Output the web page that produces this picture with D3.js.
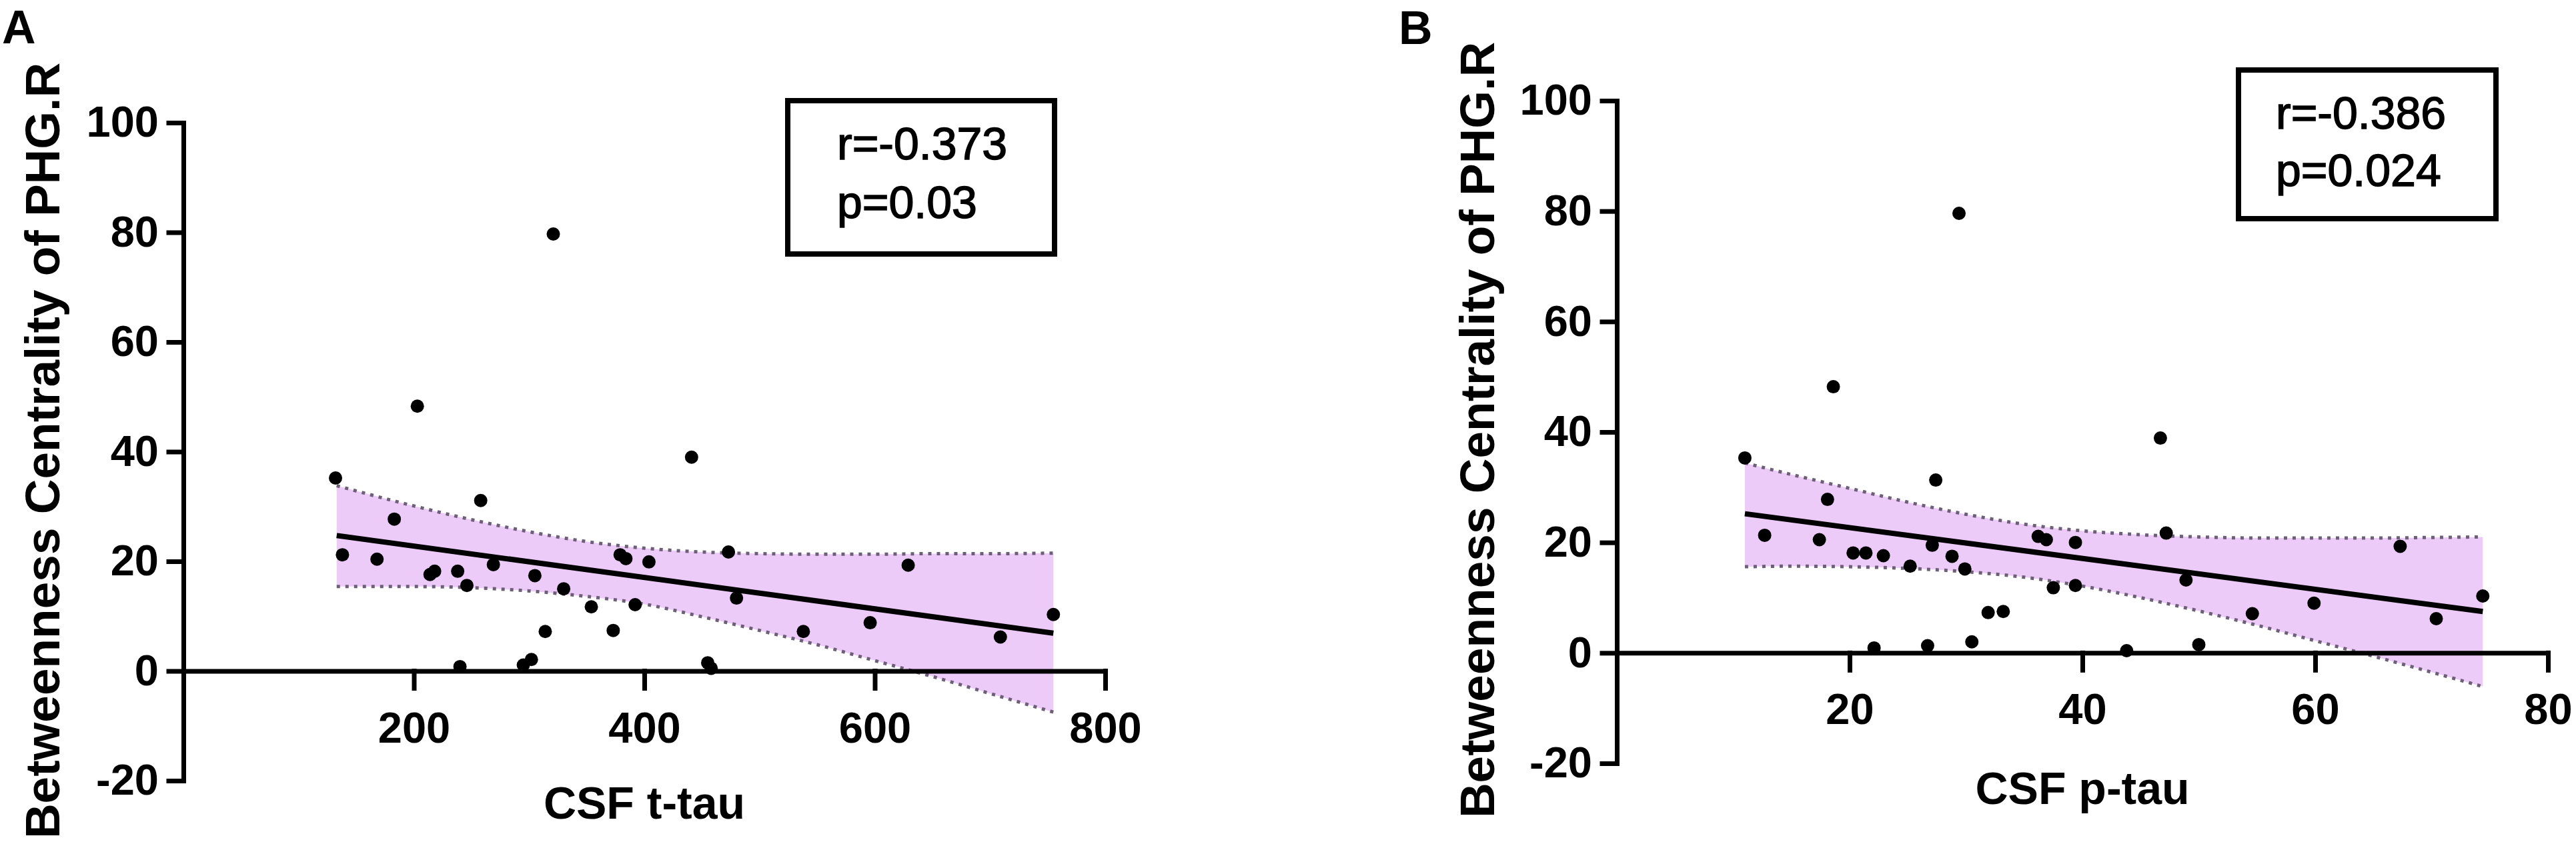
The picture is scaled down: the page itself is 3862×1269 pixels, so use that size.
<!DOCTYPE html>
<html>
<head>
<meta charset="utf-8">
<title>Betweenness centrality vs CSF tau</title>
<style>
html, body { margin: 0; padding: 0; background: #fff; }
svg { display: block; font-family: 'Liberation Sans', Arial, sans-serif; }
</style>
</head>
<body>
<svg width="3862" height="1269"></svg>
<script src="https://cdn.jsdelivr.net/npm/d3@7/dist/d3.min.js"></script>
<script>

// -------------------------------------------------------------------------
// DATA
// -------------------------------------------------------------------------
// panel A: CSF t-tau
var tTau = [132, 138, 168, 183, 203, 214, 218, 238, 240, 246, 258, 269, 295, 302, 305, 314, 321,
            330, 354, 373, 379, 384, 392, 404, 441, 455, 458, 473, 480, 538, 596, 629, 709, 755];
var bcA  = [35.2, 21.2, 20.4, 27.7, 48.3, 17.6, 18.2, 18.2, 0.8, 15.6, 31.1, 19.4, 1.1, 2.1, 17.4, 7.2, 79.7,
            15.0, 11.7, 7.4, 21.2, 20.5, 12.1, 19.9, 39.0, 1.5, 0.5, 21.7, 13.3, 7.2, 8.8, 19.3, 6.2, 10.3];
var fitXA   = [133, 755];
var fitYA   = [24.7, 6.9];
var bandXA  = [133, 200, 250, 300, 350, 400, 450, 500, 550, 600, 650, 700, 755];
var upperA  = [33.8, 30.1, 27.6, 25.4, 23.6, 22.4, 21.7, 21.4, 21.3, 21.3, 21.4, 21.4, 21.5];
var lowerA  = [15.4, 15.4, 15.2, 14.6, 13.6, 12.2, 9.9, 7.4, 4.8, 1.9, -1.0, -4.1, -7.5];
var xTicksA = [200, 400, 600, 800];
var statsA  = ["r=-0.373", "p=0.03"];

// panel B: CSF p-tau
var pTau = [11.0, 12.7, 17.4, 18.1, 18.6, 20.3, 21.4, 22.1, 22.9, 25.2, 26.7, 27.1, 27.4, 28.8, 29.4, 29.9, 30.5,
            31.9, 33.2, 36.2, 36.9, 37.5, 39.4, 39.4, 43.8, 46.7, 47.2, 48.9, 50.0, 54.6, 59.9, 67.3, 70.4, 74.4];
var bcB  = [35.3, 21.3, 20.5, 27.8, 48.2, 18.1, 18.1, 0.9, 17.6, 15.7, 1.3, 19.5, 31.3, 17.5, 79.6, 15.2, 2.0,
            7.3, 7.5, 21.1, 20.5, 11.8, 20.0, 12.2, 0.4, 38.9, 21.7, 13.2, 1.5, 7.1, 9.0, 19.3, 6.2, 10.3];
var fitXB   = [11, 74.4];
var fitYB   = [25.2, 7.5];
var bandXB  = [11, 15, 20, 25, 30, 35, 40, 45, 50, 55, 60, 65, 70, 74.4];
var upperB  = [34.4, 32.3, 29.8, 27.3, 25.1, 23.3, 22.1, 21.4, 21.0, 20.8, 20.8, 20.8, 20.9, 21.0];
var lowerB  = [15.6, 15.7, 15.6, 15.3, 14.7, 13.7, 12.1, 10.0, 7.6, 5.0, 2.2, -0.6, -3.5, -6.1];
var xTicksB = [20, 40, 60, 80];
var statsB  = ["r=-0.386", "p=0.024"];

var yTicks = [-20, 0, 20, 40, 60, 80, 100];
var yTitle = "Betweenness Centrality of PHG.R";

// -------------------------------------------------------------------------
// STYLE
// -------------------------------------------------------------------------
var opts = {
  band: '#edcbf8',
  bandEdge: '#6e5f78',
  axisWidth: 7,
  dotRadius: 10
};

var svg = d3.select("svg");

function zip(xs, ys) {
  return xs.map(function(d, i) { return [d, ys[i]]; });
}

// plain hyphen for negatives, like the original
function plain(d) { return String(d); }

// -------------------------------------------------------------------------
// ONE PANEL
// -------------------------------------------------------------------------
function drawPanel(p) {
  var x = d3.scaleLinear().domain(p.xDomain).range(p.xRange),
      y = d3.scaleLinear().domain([-20, 100]).range(p.yRange);

  var g = svg.append("g");

  // confidence band
  var bandData = p.bandX.map(function(d, i) { return { x: d, lo: p.lower[i], hi: p.upper[i] }; });

  g.append("path")
      .datum(bandData)
      .attr("fill", opts.band)
      .attr("d", d3.area()
        .curve(d3.curveMonotoneX)
        .x(function(d) { return x(d.x); })
        .y0(function(d) { return y(d.lo); })
        .y1(function(d) { return y(d.hi); }));

  ["lo", "hi"].forEach(function(k) {
    g.append("path")
        .datum(bandData)
        .attr("fill", "none")
        .attr("stroke", opts.bandEdge)
        .attr("stroke-width", 5)
        .attr("stroke-dasharray", "5 8")
        .attr("d", d3.line()
          .curve(d3.curveMonotoneX)
          .x(function(d) { return x(d.x); })
          .y(function(d) { return y(d[k]); }));
  });

  // regression line
  g.append("path")
      .datum(zip(p.fitX, p.fitY))
      .attr("fill", "none")
      .attr("stroke", "#000")
      .attr("stroke-width", 8)
      .attr("d", d3.line()
        .x(function(d) { return x(d[0]); })
        .y(function(d) { return y(d[1]); }));

  // axes
  var yAxis = g.append("g")
      .attr("transform", "translate(" + x(0) + ",0)")
      .call(d3.axisLeft(y).tickValues(yTicks).tickFormat(plain)
        .tickSize(22).tickSizeOuter(0).tickPadding(15));

  var xAxis = g.append("g")
      .attr("transform", "translate(0," + y(0) + ")")
      .call(d3.axisBottom(x).tickValues(p.xTicks).tickFormat(plain)
        .tickSize(26).tickSizeOuter(0).tickPadding(35));

  [yAxis, xAxis].forEach(function(a) {
    a.attr("font-family", null).attr("font-size", null);
    a.selectAll("path, line")
        .attr("stroke", "#000")
        .attr("stroke-width", opts.axisWidth)
        .attr("stroke-linecap", "square");
    a.selectAll("text")
        .attr("fill", "#000")
        .style("font-size", "65px")
        .style("font-weight", "bold");
  });

  // points
  g.append("g")
    .selectAll("circle")
      .data(zip(p.xs, p.ys))
    .enter().append("circle")
      .attr("cx", function(d) { return x(d[0]); })
      .attr("cy", function(d) { return y(d[1]); })
      .attr("r", opts.dotRadius)
      .attr("fill", "#000");

  // axis titles
  g.append("text")
      .attr("x", (p.xRange[0] + p.xRange[1]) / 2)
      .attr("y", p.xTitleY)
      .attr("text-anchor", "middle")
      .style("font-size", "68px")
      .style("font-weight", "bold")
      .text(p.xTitle);

  g.append("text")
      .attr("transform", "translate(" + p.yTitleX + "," + p.yTitleY + ") rotate(-90)")
      .attr("text-anchor", "middle")
      .style("font-size", "73px")
      .style("font-weight", "bold")
      .text(yTitle);

  // panel letter
  g.append("text")
      .attr("x", p.letterX)
      .attr("y", p.letterY)
      .style("font-size", "70px")
      .style("font-weight", "bold")
      .text(p.letter);

  // stats box
  g.append("rect")
      .attr("x", p.box[0])
      .attr("y", p.box[1])
      .attr("width", p.box[2])
      .attr("height", p.box[3])
      .attr("fill", "#fff")
      .attr("stroke", "#000")
      .attr("stroke-width", 8);

  g.selectAll(".stat")
      .data(p.stats)
    .enter().append("text")
      .attr("class", "stat")
      .attr("x", p.statX)
      .attr("y", function(d, i) { return p.statY + i * p.statGap; })
      .attr("stroke", "#000")
      .attr("stroke-width", 1.5)
      .style("font-size", "68px")
      .text(function(d) { return d; });
}

// -------------------------------------------------------------------------
// LAYOUT
// -------------------------------------------------------------------------
drawPanel({
  letter: "A", letterX: 3, letterY: 65,
  xs: tTau, ys: bcA, fitX: fitXA, fitY: fitYA,
  bandX: bandXA, upper: upperA, lower: lowerA,
  xDomain: [0, 800], xRange: [275, 1657], yRange: [1171, 184],
  xTicks: xTicksA, xTitle: "CSF t-tau", xTitleY: 1228,
  yTitleX: 89, yTitleY: 676,
  box: [1181, 151, 400, 230], stats: statsA, statX: 1255, statY: 239, statGap: 88
});

drawPanel({
  letter: "B", letterX: 2097, letterY: 66,
  xs: pTau, ys: bcB, fitX: fitXB, fitY: fitYB,
  bandX: bandXB, upper: upperB, lower: lowerB,
  xDomain: [0, 80], xRange: [2424, 3820], yRange: [1145, 151],
  xTicks: xTicksB, xTitle: "CSF p-tau", xTitleY: 1206,
  yTitleX: 2240, yTitleY: 645,
  box: [3356, 105, 386, 223], stats: statsB, statX: 3412, statY: 193, statGap: 86
});

</script>
</body>
</html>
